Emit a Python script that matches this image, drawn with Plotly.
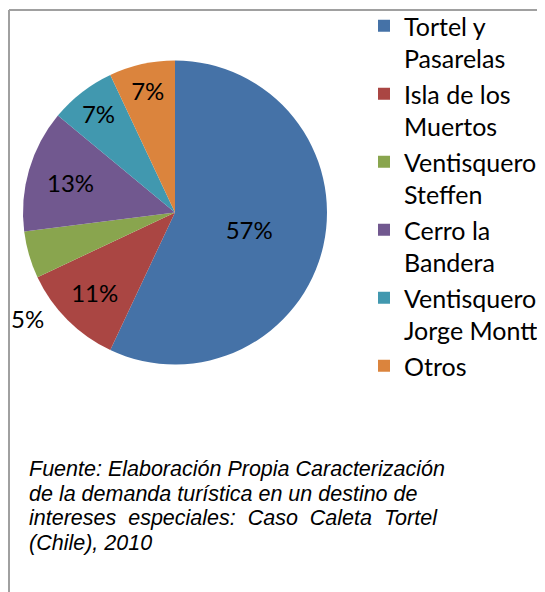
import plotly.graph_objects as go

labels = ["Tortel y<br>Pasarelas", "Isla de los<br>Muertos", "Ventisquero<br>Steffen",
          "Cerro la<br>Bandera", "Ventisquero<br>Jorge Montt", "Otros"]
values = [57, 11, 5, 13, 7, 7]
colors = ["#4572A7", "#AA4643", "#89A54E", "#71588F", "#4198AF", "#DB843D"]
# the small "Ventisquero Steffen" label sits outside the pie (drawn as an annotation below)
text_positions = ["inside", "inside", "none", "inside", "inside", "inside"]

source_lines = [
    "Fuente: Elaboración Propia Caracterización",
    "de la demanda turística en un destino de",
    "intereses  especiales:  Caso  Caleta  Tortel",
    "(Chile), 2010",
]

W, H = 545, 592
FONT = "Lato, 'Open Sans', sans-serif"


def px_x(v):
    return v / W


def px_y(v):
    return 1 - v / H


fig = go.Figure(go.Pie(
    labels=labels,
    values=values,
    marker=dict(colors=colors, line=dict(width=0)),
    sort=False,
    direction="clockwise",
    rotation=0,
    texttemplate="%{percent:.0%}",
    textposition=text_positions,
    insidetextorientation="horizontal",
    textfont=dict(family=FONT, size=24, color="#000000"),
    domain=dict(x=[px_x(15), px_x(319)], y=[px_y(356.5), px_y(52.5)]),
    hoverinfo="skip",
))

annotations = []
for i, line in enumerate(source_lines):
    annotations.append(dict(
        text="<i>" + line + "</i>", xref="paper", yref="paper",
        x=px_x(19), y=px_y(461 + 24.5 * i),
        xanchor="left", yanchor="middle", align="left", showarrow=False,
        font=dict(family="'Liberation Sans', Arial, sans-serif", size=21.5, color="#000000"),
    ))

small_pct = round(values[2] / sum(values) * 100)
annotations.append(dict(
    text=f"{small_pct}%", xref="paper", yref="paper",
    x=px_x(19), y=px_y(310), xanchor="center", yanchor="middle", showarrow=False,
    font=dict(family=FONT, size=24, color="#000000"),
))

fig.update_layout(
    width=W, height=H,
    margin=dict(l=0, r=0, t=0, b=0, autoexpand=False),
    paper_bgcolor="white",
    plot_bgcolor="white",
    showlegend=True,
    legend=dict(
        x=px_x(356), y=px_y(-5), xanchor="left", yanchor="top",
        font=dict(family=FONT, size=25, color="#000000"),
        valign="top",
        bgcolor="rgba(0,0,0,0)",
        maxheight=600,
    ),
    shapes=[
        dict(type="line", xref="paper", yref="paper", x0=px_x(1), x1=1, y0=px_y(2), y1=px_y(2),
             line=dict(color="#a0a0a0", width=2)),
        dict(type="line", xref="paper", yref="paper", x0=px_x(1), x1=px_x(1), y0=0, y1=px_y(2),
             line=dict(color="#a0a0a0", width=2)),
    ],
    annotations=annotations,
)

fig.write_html("out.html")
